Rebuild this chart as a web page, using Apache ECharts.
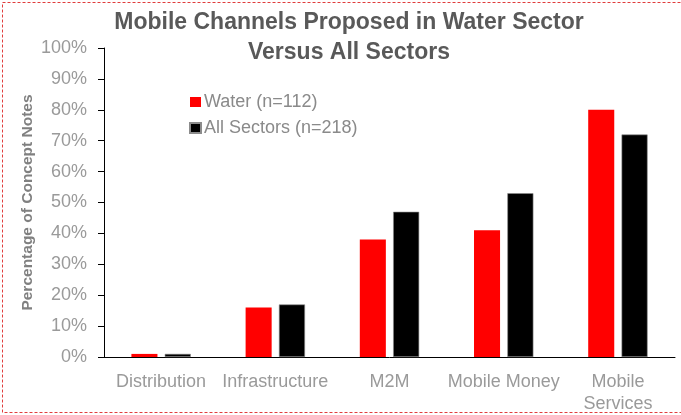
<!DOCTYPE html>
<html>
<head>
<meta charset="utf-8">
<script src="https://cdn.jsdelivr.net/npm/echarts@6/dist/echarts.min.js"></script>
<style>
  html, body { margin: 0; padding: 0; background: #fff; }
  #chart { width: 681px; height: 415px; }
</style>
</head>
<body>
<div id="chart"></div>
<script>
// Mobile channel categories and share of concept notes (%)
const categories = ['Distribution', 'Infrastructure', 'M2M', 'Mobile Money', 'Mobile\nServices'];
const waterValues = [1, 16, 38, 41, 80];
const allSectorValues = [1, 17, 47, 53, 72];
const yTicks = [0, 10, 20, 30, 40, 50, 60, 70, 80, 90, 100];

const chart = echarts.init(document.getElementById('chart'), null, { renderer: 'canvas' });

const labelFont = 'Arial, "Liberation Sans", sans-serif';

chart.setOption({
  animation: false,
  title: {
    text: 'Mobile Channels Proposed in Water Sector\nVersus All Sectors',
    left: 344,
    textAlign: 'center',
    top: 3,
    textStyle: {
      color: '#595959',
      fontSize: 23,
      fontWeight: 'bold',
      fontFamily: labelFont,
      lineHeight: 30
    }
  },
  legend: {
    orient: 'vertical',
    left: 184,
    top: 88,
    itemWidth: 11,
    itemHeight: 10,
    itemGap: 8,
    icon: 'rect',
    textStyle: { color: '#8a8a8a', fontSize: 18, fontFamily: labelFont, padding: [0, 0, 0, -2] },
    data: ['Water (n=112)', 'All Sectors (n=218)']
  },
  grid: { left: 104, right: 6, top: 48, bottom: 57 },
  xAxis: {
    type: 'category',
    data: categories,
    axisLine: { lineStyle: { color: '#000', width: 1 } },
    axisTick: { show: false },
    axisLabel: {
      color: '#9a9a9a',
      fontSize: 18,
      fontFamily: labelFont,
      margin: 14,
      lineHeight: 22,
      interval: 0
    }
  },
  yAxis: {
    type: 'value',
    min: 0,
    max: 100,
    interval: 10,
    name: 'Percentage of Concept Notes',
    nameLocation: 'middle',
    nameGap: 68,
    nameMoveOverlap: false,
    nameTextStyle: { color: '#808080', fontSize: 15.5, fontWeight: 'bold', fontFamily: labelFont },
    axisLine: { show: true, lineStyle: { color: '#000', width: 1 } },
    axisTick: { show: true, length: 6, lineStyle: { color: '#000' } },
    splitLine: { show: false },
    axisLabel: {
      color: '#9a9a9a',
      fontSize: 18,
      fontFamily: labelFont,
      margin: 17,
      formatter: v => (yTicks.includes(v) ? v + '%' : '')
    }
  },
  series: [
    {
      name: 'Water (n=112)',
      type: 'bar',
      data: waterValues,
      itemStyle: { color: '#ff0000' },
      barGap: '28%',
      barCategoryGap: '48%'
    },
    {
      name: 'All Sectors (n=218)',
      type: 'bar',
      data: allSectorValues,
      itemStyle: { color: '#000000', borderColor: '#8c8c8c', borderWidth: 0.6 }
    }
  ],
  graphic: [
    {
      type: 'rect',
      shape: { x: 2.5, y: 2.5, width: 690, height: 410 },
      style: { fill: 'none', stroke: '#e03c3c', lineWidth: 1, lineDash: [3, 2] },
      silent: true
    }
  ]
});
</script>
</body>
</html>
